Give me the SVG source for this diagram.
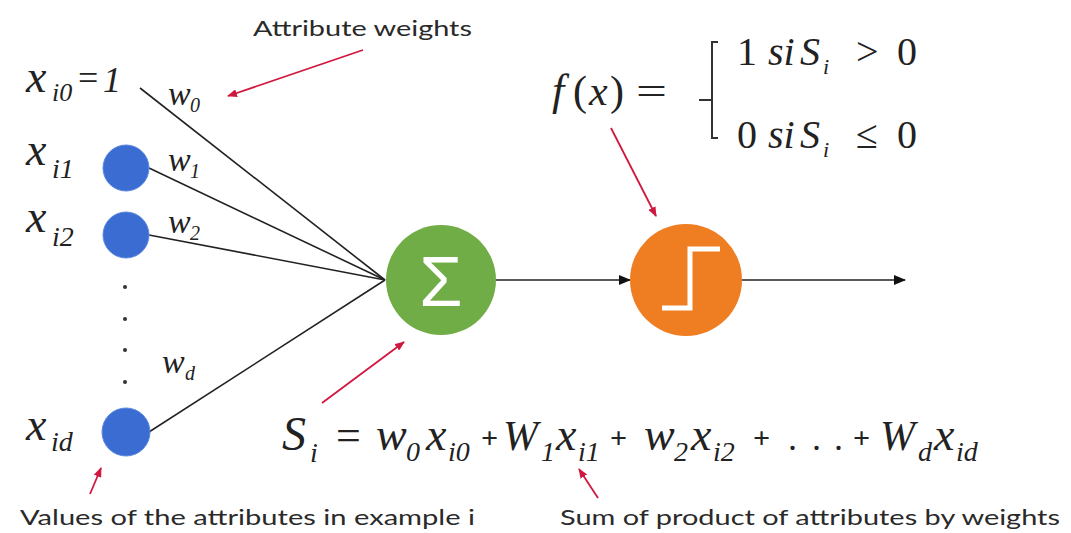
<svg xmlns="http://www.w3.org/2000/svg" width="1071" height="533" viewBox="0 0 1071 533">
<style>
.lbl{font-family:"Lato","Liberation Sans",sans-serif;font-size:22px;fill:#2a2a2a}
.m{font-family:"Liberation Serif","Times New Roman",serif;font-style:italic;fill:#222}
.up{font-family:"Liberation Serif","Times New Roman",serif;font-style:normal;fill:#222}
.conn{stroke:#222;stroke-width:1.6;fill:none}
.red{stroke:#d0183f;stroke-width:1.8;fill:none}
.inp{fill:#3a6cd1;stroke:#5a88e0;stroke-width:1}
</style>
<defs>
<marker id="ab" viewBox="0 0 12 10" refX="11" refY="5" markerWidth="12" markerHeight="10" markerUnits="userSpaceOnUse" orient="auto">
<path d="M0,0 L12,5 L0,10 z" fill="#111"/>
</marker>
<marker id="ar" viewBox="0 0 10 8" refX="9" refY="4" markerWidth="10" markerHeight="8" markerUnits="userSpaceOnUse" orient="auto">
<path d="M0,0 L10,4 L0,8 z" fill="#d0183f"/>
</marker>
</defs>
<rect width="1071" height="533" fill="#fff"/>

<g id="connectors">
<line class="conn" x1="140" y1="88" x2="385" y2="280"/>
<line class="conn" x1="149" y1="168" x2="385" y2="280"/>
<line class="conn" x1="149" y1="235" x2="385" y2="280"/>
<line class="conn" x1="149" y1="432" x2="385" y2="280"/>
<line class="conn" x1="496" y1="280" x2="630" y2="280" marker-end="url(#ab)"/>
<line class="conn" x1="742" y1="280" x2="905" y2="280" marker-end="url(#ab)"/>
<line class="red" x1="363" y1="50" x2="228" y2="96" marker-end="url(#ar)"/>
<line class="red" x1="611" y1="128" x2="656" y2="216" marker-end="url(#ar)"/>
<line class="red" x1="322" y1="403" x2="404" y2="342" marker-end="url(#ar)"/>
<line class="red" x1="598" y1="498" x2="579" y2="469" marker-end="url(#ar)"/>
<line class="red" x1="90" y1="494" x2="101" y2="468" marker-end="url(#ar)"/>
</g>

<g id="label-attribute-weights">
<text class="lbl" x="253" y="36" textLength="219" lengthAdjust="spacingAndGlyphs">Attribute weights</text>
</g>

<g id="input-x0">
<text class="m" x="26" y="92" font-size="46">x</text>
<text class="m" x="52" y="101" font-size="26">i0</text>
<text class="up" x="78" y="90" font-size="36">=</text>
<text class="m" x="103" y="92" font-size="36">1</text>
<text class="m" x="168" y="105" font-size="34">w</text>
<text class="m" x="190" y="112" font-size="20">0</text>
</g>

<g id="input-x1">
<text class="m" x="26" y="165" font-size="46">x</text>
<text class="m" x="52" y="178" font-size="28">i1</text>
<circle class="inp" cx="126" cy="168" r="23"/>
<text class="m" x="168" y="171" font-size="34">w</text>
<text class="m" x="190" y="178" font-size="20">1</text>
</g>

<g id="input-x2">
<text class="m" x="26" y="232" font-size="46">x</text>
<text class="m" x="52" y="246" font-size="28">i2</text>
<circle class="inp" cx="126" cy="235" r="23"/>
<text class="m" x="168" y="233" font-size="34">w</text>
<text class="m" x="190" y="240" font-size="20">2</text>
</g>

<g id="dots" fill="#333">
<circle cx="125" cy="287" r="2"/>
<circle cx="125" cy="319" r="2"/>
<circle cx="125" cy="350" r="2"/>
<circle cx="125" cy="382" r="2"/>
</g>

<g id="input-xd">
<text class="m" x="26" y="440" font-size="46">x</text>
<text class="m" x="51" y="451" font-size="28">id</text>
<circle class="inp" cx="126" cy="432" r="24"/>
<text class="m" x="162" y="373" font-size="34">w</text>
<text class="m" x="185" y="380" font-size="20">d</text>
</g>

<g id="sum-node">
<circle cx="441" cy="280" r="55" fill="#70ad47"/>
<text x="441" y="306" text-anchor="middle" font-family="Liberation Sans, sans-serif" font-size="70" fill="#fff">Σ</text>
</g>

<g id="step-node">
<circle cx="686" cy="280" r="56" fill="#ef7d22"/>
<polyline points="662,308 690,308 690,249 720,249" fill="none" stroke="#fff" stroke-width="5"/>
</g>

<g id="activation-formula">
<text class="m" x="552" y="105" font-size="44">f</text>
<text class="up" x="573" y="105" font-size="42">(</text>
<text class="m" x="589" y="105" font-size="42">x</text>
<text class="up" x="610" y="105" font-size="42">)</text>
<text class="up" x="636" y="105" font-size="40" textLength="31" lengthAdjust="spacingAndGlyphs">=</text>
<path d="M718,42 L712,42 L712,138 L718,138 M699,100 L712,100" fill="none" stroke="#333" stroke-width="2"/>
<text class="up" x="737" y="65" font-size="40">1</text>
<text class="m" x="768" y="65" font-size="40">si</text>
<text class="m" x="800" y="65" font-size="40">S</text>
<text class="m" x="823" y="74" font-size="22">i</text>
<text class="up" x="856" y="65" font-size="40">&gt;</text>
<text class="up" x="897" y="65" font-size="40">0</text>
<text class="up" x="737" y="148" font-size="40">0</text>
<text class="m" x="768" y="148" font-size="40">si</text>
<text class="m" x="800" y="148" font-size="40">S</text>
<text class="m" x="823" y="157" font-size="22">i</text>
<text class="up" x="856" y="148" font-size="40">≤</text>
<text class="up" x="897" y="148" font-size="40">0</text>
</g>

<g id="sum-formula">
<text class="m" x="282" y="450" font-size="48">S</text>
<text class="m" x="310" y="462" font-size="28">i</text>
<text class="up" x="336" y="450" font-size="44">=</text>
<text class="m" x="376" y="450" font-size="46">w</text>
<text class="m" x="406" y="461" font-size="28">0</text>
<text class="m" x="426" y="450" font-size="46">x</text>
<text class="m" x="448" y="461" font-size="28">i0</text>
<text class="up" x="481" y="448" font-size="30" font-weight="bold">+</text>
<text class="m" x="503" y="450" font-size="42">W</text>
<text class="m" x="541" y="461" font-size="28">1</text>
<text class="m" x="556" y="450" font-size="46">x</text>
<text class="m" x="578" y="461" font-size="28">i1</text>
<text class="up" x="610" y="448" font-size="30" font-weight="bold">+</text>
<text class="m" x="644" y="450" font-size="46">w</text>
<text class="m" x="674" y="461" font-size="28">2</text>
<text class="m" x="691" y="450" font-size="46">x</text>
<text class="m" x="713" y="461" font-size="28">i2</text>
<text class="up" x="753" y="448" font-size="30" font-weight="bold">+</text>
<text class="up" x="788" y="450" font-size="36">.</text>
<text class="up" x="812" y="450" font-size="36">.</text>
<text class="up" x="834" y="450" font-size="36">.</text>
<text class="up" x="853" y="448" font-size="30" font-weight="bold">+</text>
<text class="m" x="880" y="450" font-size="42">W</text>
<text class="m" x="918" y="461" font-size="28">d</text>
<text class="m" x="934" y="450" font-size="46">x</text>
<text class="m" x="956" y="461" font-size="28">id</text>
</g>

<g id="label-values">
<text class="lbl" x="20" y="525" textLength="455" lengthAdjust="spacingAndGlyphs">Values of the attributes in example i</text>
</g>
<g id="label-sum-product">
<text class="lbl" x="560" y="525" textLength="500" lengthAdjust="spacingAndGlyphs">Sum of product of attributes by weights</text>
</g>
</svg>
